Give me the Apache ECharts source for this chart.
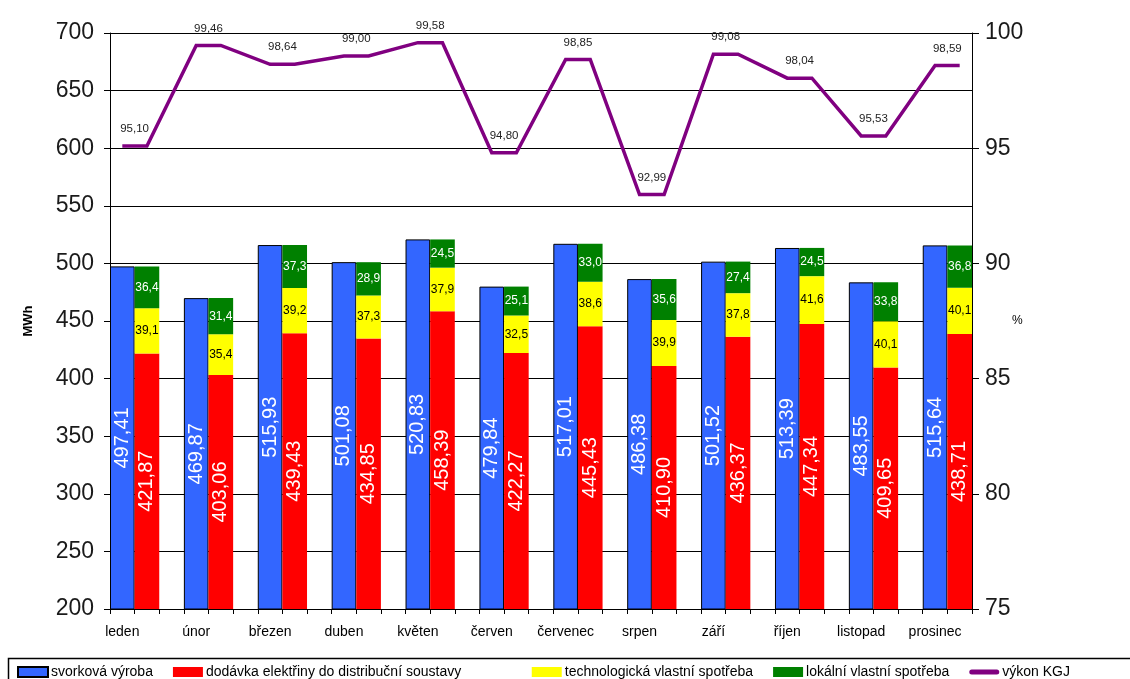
<!DOCTYPE html>
<html>
<head>
<meta charset="utf-8">
<script src="https://cdn.jsdelivr.net/npm/echarts@6/dist/echarts.min.js"></script>
<style>
  html, body { margin: 0; padding: 0; background: #ffffff; }
  #chart { width: 1130px; height: 679px; }
</style>
</head>
<body>
<div id="chart"></div>
<script>
// Monthly energy balance of the cogeneration unit (MWh) and its output (%)
const months = ['leden', 'únor', 'březen', 'duben', 'květen', 'červen',
                'červenec', 'srpen', 'září', 'říjen', 'listopad', 'prosinec'];
const svorkovaVyroba = [497.41, 469.87, 515.93, 501.08, 520.83, 479.84,
                        517.01, 486.38, 501.52, 513.39, 483.55, 515.64];
const dodavkaDoSoustavy = [421.87, 403.06, 439.43, 434.85, 458.39, 422.27,
                           445.43, 410.90, 436.37, 447.34, 409.65, 438.71];
const technologickaSpotreba = [39.1, 35.4, 39.2, 37.3, 37.9, 32.5,
                               38.6, 39.9, 37.8, 41.6, 40.1, 40.1];
const lokalniSpotreba = [36.4, 31.4, 37.3, 28.9, 24.5, 25.1,
                         33.0, 35.6, 27.4, 24.5, 33.8, 36.8];
const vykonKGJ = [95.10, 99.46, 98.64, 99.00, 99.58, 94.80,
                  98.85, 92.99, 99.08, 98.04, 95.53, 98.59];

// Axis ranges and tick steps
const mwhAxis = { min: 200, max: 700, step: 50 };
const pctAxis = { min: 75, max: 100, step: 5 };

// Series names (legend)
const names = ['svorková výroba', 'dodávka elektřiny do distribuční soustavy',
               'technologická vlastní spotřeba', 'lokální vlastní spotřeba', 'výkon KGJ'];

// Every month uses three slots on the category axis:
// production bar, stacked delivery bar, spacing (no spacing after the last month).
const slots = [];
months.forEach((m, i) => {
  slots.push(m, m + '#2');
  if (i < months.length - 1) slots.push(m + '#3');
});
const monthOf = s => Math.floor(s / 3);
const atSlot = (values, offset) =>
  slots.map((_, s) => (s % 3 === offset ? values[monthOf(s)] : '-'));
const lineSlots = values =>
  slots.map((_, s) => (s % 3 === 2 ? '-' : values[monthOf(s)]));

const cz = (v, d) => Number(v).toFixed(d).replace('.', ',');
const FONT = '"Liberation Sans", Arial, sans-serif';

const chart = echarts.init(document.getElementById('chart'), null, { renderer: 'canvas' });

chart.setOption({
  animation: false,
  backgroundColor: '#ffffff',
  textStyle: { fontFamily: FONT },
  grid: { left: 110, right: 158, top: 33, bottom: 70, containLabel: false },
  legend: {
    left: 17,
    top: 665,
    padding: 0,
    itemWidth: 30,
    itemHeight: 10,
    itemGap: 20,
    textStyle: { fontFamily: FONT, fontSize: 14, color: '#000', padding: [0, 0, 0, -2] },
    // extra room after the long delivery entry
    formatter: name => (name === names[1] ? name + '\u00a0'.repeat(13) : name),
    data: [
      { name: names[0], icon: 'rect' },
      { name: names[1], icon: 'rect' },
      { name: names[2], icon: 'rect' },
      { name: names[3], icon: 'rect' },
      { name: names[4],
        icon: 'path://M0,0M30,10M2.5,2.5L27.5,2.5A2.5,2.5,0,0,1,27.5,7.5L2.5,7.5A2.5,2.5,0,0,1,2.5,2.5Z',
        itemStyle: { color: '#800080', borderWidth: 0 } }
    ]
  },
  graphic: [{
    type: 'rect',
    left: 6,
    top: 656,
    shape: { width: 1140, height: 40 },
    style: { fill: 'none', stroke: '#000', lineWidth: 1.5 },
    silent: true
  }],
  xAxis: {
    type: 'category',
    data: slots,
    boundaryGap: true,
    axisLine: { lineStyle: { color: '#000', width: 1 } },
    axisTick: { show: true, interval: 0, length: 5, lineStyle: { color: '#000' } },
    axisLabel: {
      interval: 0,
      margin: 16,
      fontSize: 14,
      color: '#000',
      fontFamily: FONT,
      formatter: v => (v.indexOf('#') >= 0 ? '' : v)
    },
    splitLine: { show: false }
  },
  yAxis: [{
    type: 'value',
    name: 'MWh',
    nameLocation: 'middle',
    nameGap: 75,
    nameMoveOverlap: false,
    nameTextStyle: { fontSize: 13, fontWeight: 'bold', color: '#000', fontFamily: FONT },
    min: mwhAxis.min,
    max: mwhAxis.max,
    interval: mwhAxis.step,
    axisLine: { show: true, lineStyle: { color: '#000', width: 1 } },
    axisTick: { show: true, length: 6, lineStyle: { color: '#000' } },
    axisLabel: { fontSize: 23, color: '#1a1a1a', margin: 16, fontFamily: FONT },
    splitLine: { show: true, lineStyle: { color: '#000', width: 1 } }
  }, {
    type: 'value',
    name: '%',
    nameLocation: 'middle',
    nameRotate: 0,
    nameGap: 40,
    nameMoveOverlap: false,
    nameTextStyle: { fontSize: 12, color: '#000', fontFamily: FONT },
    position: 'right',
    min: pctAxis.min,
    max: pctAxis.max,
    interval: pctAxis.step,
    axisLine: { show: true, lineStyle: { color: '#000', width: 1 } },
    axisTick: { show: true, length: 7, lineStyle: { color: '#000' } },
    axisLabel: { fontSize: 23, color: '#1a1a1a', margin: 13, fontFamily: FONT },
    splitLine: { show: false }
  }],
  series: [{
    name: names[0],
    type: 'bar',
    data: atSlot(svorkovaVyroba, 0),
    barWidth: '100%',
    barGap: '-100%',
    barCategoryGap: 0,
    clip: true,
    itemStyle: { color: '#3366FF', borderColor: '#000', borderWidth: 1 },
    label: {
      show: true, position: 'inside', rotate: 90,
      fontSize: 20, color: '#fff', fontFamily: FONT,
      formatter: p => cz(p.value, 2)
    }
  }, {
    name: names[1],
    type: 'bar',
    stack: 'bilance',
    data: atSlot(dodavkaDoSoustavy, 1),
    barWidth: '100%',
    barGap: '-100%',
    clip: true,
    itemStyle: { color: '#FF0000' },
    label: {
      show: true, position: 'inside', rotate: 90,
      fontSize: 20, color: '#fff', fontFamily: FONT,
      formatter: p => cz(p.value, 2)
    }
  }, {
    name: names[2],
    type: 'bar',
    stack: 'bilance',
    data: atSlot(technologickaSpotreba, 1),
    barWidth: '100%',
    barGap: '-100%',
    clip: true,
    itemStyle: { color: '#FFFF00' },
    label: {
      show: true, position: 'inside',
      fontSize: 12, color: '#000', fontFamily: FONT,
      formatter: p => cz(p.value, 1)
    }
  }, {
    name: names[3],
    type: 'bar',
    stack: 'bilance',
    data: atSlot(lokalniSpotreba, 1),
    barWidth: '100%',
    barGap: '-100%',
    clip: true,
    itemStyle: { color: '#008000' },
    label: {
      show: true, position: 'inside',
      fontSize: 12, color: '#fff', fontFamily: FONT,
      formatter: p => cz(p.value, 1)
    }
  }, {
    name: names[4],
    type: 'line',
    yAxisIndex: 1,
    data: lineSlots(vykonKGJ),
    connectNulls: true,
    symbol: 'circle',
    symbolSize: 0.1,
    showSymbol: true,
    z: 5,
    lineStyle: { color: '#800080', width: 3.5, join: 'miter' },
    itemStyle: { color: '#800080' },
    label: {
      show: true,
      position: 'top',
      distance: 11,
      offset: [12.3, 0],
      fontSize: 11.5,
      color: '#222',
      fontFamily: FONT,
      formatter: p => (p.dataIndex % 3 === 0 ? cz(p.value, 2) : '')
    }
  }]
});
</script>
</body>
</html>
